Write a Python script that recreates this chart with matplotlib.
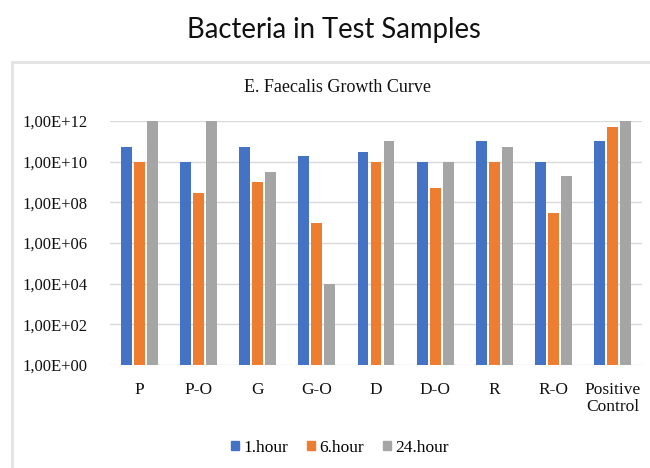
import numpy as np
import matplotlib
matplotlib.use("Agg")
import matplotlib.pyplot as plt
from matplotlib.patches import Rectangle, Patch

# data (CFU, log scale)
samples = ["P", "P-O", "G", "G-O", "D", "D-O", "R", "R-O", "Positive\nControl"]
hour_1 = [5e10, 1e10, 5e10, 2e10, 3e10, 1e10, 1e11, 1e10, 1e11]
hour_6 = [1e10, 3e8, 1e9, 1e7, 1e10, 5e8, 1e10, 3e7, 5e11]
hour_24 = [1e12, 1e12, 3e9, 1e4, 1e11, 1e10, 5e10, 2e9, 1e12]
series_names = ["1.hour", "6.hour", "24.hour"]
series_colors = ["#4472C4", "#ED7D31", "#A5A5A5"]

serif = ["Liberation Serif", "DejaVu Serif"]

fig = plt.figure(figsize=(6.5, 4.68), dpi=100)

## outer page title
fig.text(0.514, 1 - 30 / 468, "Bacteria in Test Samples", ha="center", va="center",
         fontsize=19.8, family=["Lato", "DejaVu Sans"], color="#111111")

## the chart box (only left and top edges fall inside the picture)
fig.patches.append(Rectangle((12 / 650, -0.2), 1.2, 1.2 - 62 / 468, transform=fig.transFigure,
                             fill=False, edgecolor="#e4e4e4", lw=2.2))

ax = fig.add_axes((110 / 650, 1 - 365 / 468, 532 / 650, 244 / 468))
ax.set_yscale("log")

x = np.arange(len(samples))
w = 0.185
step = 0.22
for i, (vals, name, col) in enumerate(zip([hour_1, hour_6, hour_24], series_names, series_colors)):
    ax.bar(x + (i - 1) * step, np.array(vals) - 1, w, bottom=1, color=col, label=name, zorder=3)

ax.set_ylim(1, 1e12)
ax.set_xlim(-0.5, len(samples) - 0.5)
ax.set_yticks([10.0 ** e for e in range(0, 13, 2)])
ax.set_yticklabels(["1,00E+%02d" % e for e in range(0, 13, 2)])
ax.yaxis.set_minor_locator(matplotlib.ticker.NullLocator())
ax.set_xticks(x)
ax.set_xticklabels(samples)
ax.tick_params(length=0)
ax.tick_params(axis="y", pad=16)
ax.tick_params(axis="x", pad=12)
for lab in ax.get_xticklabels() + ax.get_yticklabels():
    lab.set_family(serif)
    lab.set_fontsize(12.5)
    lab.set_color("#111111")
for lab in ax.get_yticklabels():
    lab.set_fontsize(12)
for lab in ax.get_xticklabels():
    lab.set_linespacing(1.1)

ax.grid(axis="y", color="#d9d9d9", lw=1, zorder=0)
for s in ax.spines.values():
    s.set_visible(False)

fig.text(337 / 650, 1 - 88 / 468, "E. Faecalis Growth Curve", ha="center", va="center",
         fontsize=13, family=serif, color="#111111")

handles = [Patch(color=c) for c in series_colors]
fig.legend(handles, series_names, loc="center", bbox_to_anchor=(340 / 650, 1 - 448 / 468),
           ncol=3, frameon=False, handlelength=0.45, handleheight=0.45, handletextpad=0.25,
           columnspacing=1.1, prop={"family": serif, "size": 12.5})

plt.savefig("out.png", dpi=100)
